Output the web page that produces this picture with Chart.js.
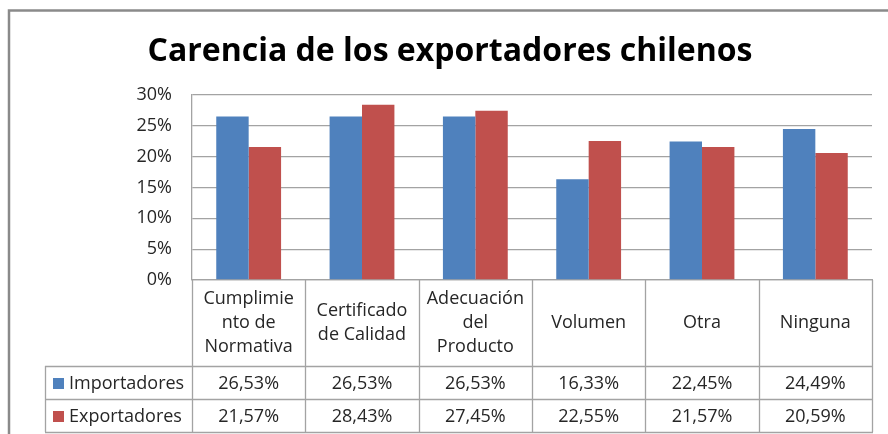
<!DOCTYPE html>
<html>
<head>
<meta charset="utf-8">
<script src="https://cdn.jsdelivr.net/npm/chart.js@4/dist/chart.umd.min.js"></script>
<style>
  html, body { margin: 0; padding: 0; background: #ffffff; }
  #wrap { width: 888px; height: 434px; position: relative; }
</style>
</head>
<body>
<div id="wrap"><canvas id="c" width="888" height="434"></canvas></div>
<script>
// ---- data ----
const chartTitle = "Carencia de los exportadores chilenos";
const categories = [
  ["Cumplimie", "nto de", "Normativa"],
  ["Certificado", "de Calidad"],
  ["Adecuación", "del", "Producto"],
  ["Volumen"],
  ["Otra"],
  ["Ninguna"]
];
const seriesNames = ["Importadores", "Exportadores"];
const importadores = [26.53, 26.53, 26.53, 16.33, 22.45, 24.49];
const exportadores = [21.57, 28.43, 27.45, 22.55, 21.57, 20.59];
const yTickValues = [0, 5, 10, 15, 20, 25, 30];
const seriesColors = ["#4F81BD", "#C0504D"];

const FONT = "'Open Sans', 'Noto Sans', sans-serif";
const TEXT = "#262626";
const LINE = "#a3a3a3";

function fmtPct(v) { return v.toFixed(2).replace('.', ',') + '%'; }

const tablePlugin = {
  id: 'tablePlugin',
  afterDraw(chart) {
    const ctx = chart.ctx;
    const xs = chart.scales.x;
    const area = chart.chartArea;
    const n = categories.length;
    const step = xs.getPixelForValue(1) - xs.getPixelForValue(0);
    const bounds = [];
    for (let i = 0; i <= n; i++) bounds.push(xs.getPixelForValue(0) - step / 2 + i * step);
    const headerBottom = 366;
    const rowH = 33;
    const tableLeft = 45;
    const tableBottom = headerBottom + 2 * rowH;

    ctx.save();
    // outer frame (top & left)
    ctx.strokeStyle = '#8a8a8a';
    ctx.lineWidth = 2.5;
    ctx.beginPath();
    ctx.moveTo(9, 434); ctx.lineTo(9, 10.5); ctx.lineTo(888, 10.5);
    ctx.stroke();

    // title
    ctx.fillStyle = '#000000';
    ctx.font = "bold 32px " + FONT;
    ctx.textAlign = 'center';
    ctx.textBaseline = 'alphabetic';
    ctx.fillText(chartTitle, 450, 61);

    // table lines
    ctx.strokeStyle = LINE;
    ctx.lineWidth = 1.3;
    ctx.beginPath();
    bounds.forEach(b => { ctx.moveTo(Math.round(b) + 0.5, area.bottom); ctx.lineTo(Math.round(b) + 0.5, tableBottom); });
    ctx.moveTo(tableLeft + 0.5, headerBottom); ctx.lineTo(tableLeft + 0.5, tableBottom);
    for (let r = 0; r <= 2; r++) {
      const y = headerBottom + r * rowH + 0.5;
      ctx.moveTo(tableLeft, y); ctx.lineTo(bounds[n] + 1, y);
    }
    ctx.stroke();

    // rows
    const rows = [importadores, exportadores];
    ctx.font = "18px " + FONT;
    ctx.textBaseline = 'middle';
    rows.forEach((vals, r) => {
      const cy = headerBottom + r * rowH + rowH / 2 + 1;
      // legend key
      ctx.fillStyle = seriesColors[r];
      ctx.fillRect(53, cy - 5.5, 11, 11);
      ctx.fillStyle = TEXT;
      ctx.textAlign = 'left';
      ctx.fillText(seriesNames[r], 69, cy);
      ctx.textAlign = 'center';
      vals.forEach((v, i) => {
        ctx.fillText(fmtPct(v), xs.getPixelForValue(i), cy);
      });
    });
    ctx.restore();
  }
};

new Chart(document.getElementById('c'), {
  type: 'bar',
  data: {
    labels: categories,
    datasets: [
      { label: seriesNames[0], data: importadores, backgroundColor: seriesColors[0] },
      { label: seriesNames[1], data: exportadores, backgroundColor: seriesColors[1] }
    ]
  },
  options: {
    responsive: false,
    animation: false,
    devicePixelRatio: 1,
    layout: { padding: { top: 95, left: 0, right: 16, bottom: 2 } },
    plugins: {
      legend: { display: false },
      title: { display: false },
      tooltip: { enabled: false }
    },
    datasets: { bar: { categoryPercentage: 0.572, barPercentage: 1.0 } },
    scales: {
      x: {
        offset: true,
        grid: { display: false, drawTicks: false },
        border: { display: true, color: LINE, width: 1.3 },
        ticks: {
          color: TEXT,
          font: { family: FONT, size: 18, lineHeight: 1.34 },
          padding: 19,
          crossAlign: 'center',
          maxRotation: 0,
          minRotation: 0,
          autoSkip: false
        },
        afterFit(s) { s.height = 152; }
      },
      y: {
        min: 0,
        max: 30,
        afterBuildTicks(s) { s.ticks = yTickValues.map(v => ({ value: v })); },
        grid: { color: LINE, lineWidth: 1.3, drawTicks: false },
        border: { display: true, color: LINE, width: 1.3 },
        ticks: {
          color: TEXT,
          font: { family: FONT, size: 18 },
          padding: 20,
          callback: v => v + '%'
        },
        afterFit(s) { s.width = 192; }
      }
    }
  },
  plugins: [tablePlugin]
});
</script>
</body>
</html>
